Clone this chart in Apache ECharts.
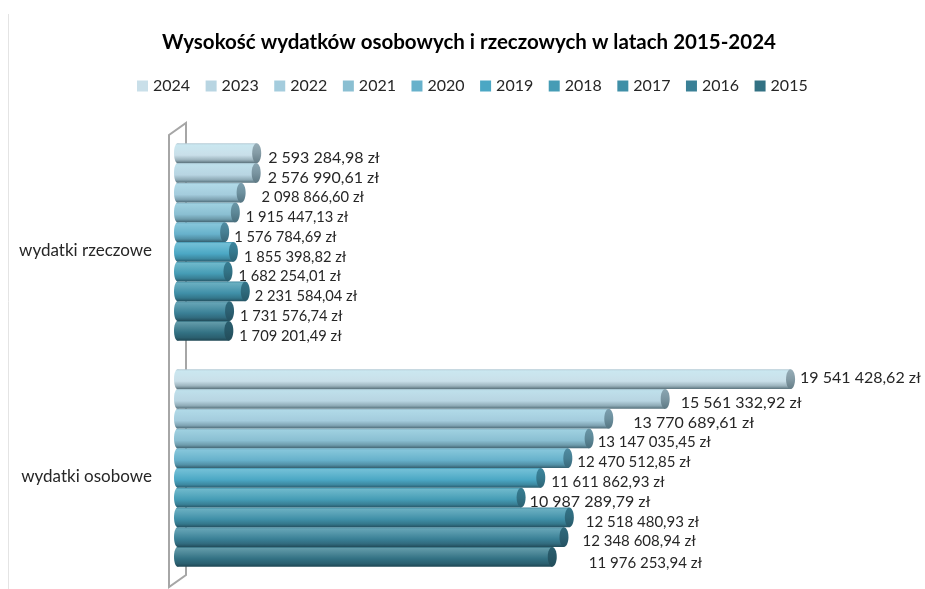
<!DOCTYPE html>
<html><head><meta charset="utf-8">
<style>html,body{margin:0;padding:0;background:#fff}#c{width:925px;height:589px}</style>
<script src="https://cdn.jsdelivr.net/npm/echarts@6/dist/echarts.min.js"></script>
</head><body><div id="c"></div>
<script>
const titleText = 'Wysokość wydatków osobowych i rzeczowych w latach 2015-2024';
const categories = ['wydatki rzeczowe', 'wydatki osobowe'];
const years = ['2024','2023','2022','2021','2020','2019','2018','2017','2016','2015'];
const rzeczowe = [2593284.98,2576990.61,2098866.60,1915447.13,1576784.69,1855398.82,1682254.01,2231584.04,1731576.74,1709201.49];
const osobowe = [19541428.62,15561332.92,13770689.61,13147035.45,12470512.85,11611862.93,10987289.79,12518480.93,12348608.94,11976253.94];
const yearColors = ['#C9DFE9','#B8D5E2','#A4CCDD','#8ABFD2','#67B1CB','#4BA7C4','#459CB5','#3F8FA7','#3A8096','#327183'];
// manual data-label nudges seen in the picture: [dx, dy, fontPx] relative to the bar tip and centre
const nudgeRzeczowe = [[7,5,16],[7,5,16],[16,5,14.7],[6,5,14.7],[5,5,14.7],[6,5,14.7],[6,5,14.7],[5,5,14.7],[6,5,14.7],[6,5,14.7]];
const nudgeOsobowe = [[5,-1,16],[11,4,16],[20,4,16],[4,4,15],[5,4,15],[6,4,15],[4,4,16],[12,5,15],[14,4,15],[32,6,15]];

const fmt = v => v.toFixed(2).replace('.', ',').replace(/\B(?=(\d{3})+(?!\d))/g, ' ') + ' zł';
// t > 0 mixes towards a bright cyan-white, t < 0 towards a dark slate
function shade(hex, t) {
  const c = [1, 3, 5].map(i => parseInt(hex.slice(i, i + 2), 16));
  const to = t > 0 ? [205, 248, 255] : [20, 45, 55];
  const a = Math.abs(t);
  return 'rgb(' + c.map((v, i) => Math.round(v + (to[i] - v) * a)).join(',') + ')';
}
function grad(base, stops) {
  return new echarts.graphic.LinearGradient(0, 0, 0, 1, stops.map(s => ({offset: s[0], color: shade(base, s[1])})));
}
const BAR_SHARE = 0.873, RX = 4.5;
function renderBar(params, api) {
  const si = params.seriesIndex, cat = api.value(1), val = api.value(0);
  const p = api.coord([val, cat]), o = api.coord([0, cat]);
  const band = api.size([0, 1])[1];
  const h = band * BAR_SHARE / years.length;
  const top = p[1] - band * BAR_SHARE / 2 + si * h;
  const base = yearColors[si];
  const body = grad(base, [[0,-0.12],[0.08,0.3],[0.3,0.18],[0.6,0],[0.84,-0.25],[1,-0.62]]);
  const capFill = grad(base, [[0,-0.28],[0.5,-0.38],[1,-0.55]]);
  const n = (cat === 0 ? nudgeRzeczowe : nudgeOsobowe)[si];
  return {type: 'group', children: [
    {type: 'ellipse', shape: {cx: o[0] + 2.5, cy: top + h/2, rx: 3.5, ry: h/2}, style: {fill: body}},
    {type: 'rect', shape: {x: o[0] + 2.5, y: top, width: p[0] - o[0] - 2.5, height: h}, style: {fill: body}},
    {type: 'ellipse', shape: {cx: p[0], cy: top + h/2, rx: RX, ry: h/2}, style: {fill: capFill}},
    {type: 'text', style: {x: p[0] + RX + n[0], y: top + h/2 + n[1], text: fmt(val), fill: '#262626',
      font: n[2] + 'px Lato, sans-serif', verticalAlign: 'middle', align: 'left'}}
  ]};
}
const series = years.map((y, i) => ({
  type: 'custom', name: y, renderItem: renderBar, z: 3,
  itemStyle: {color: yearColors[i]},
  encode: {x: 0, y: 1},
  data: [[rzeczowe[i], 0], [osobowe[i], 1]]
}));
const chart = echarts.init(document.getElementById('c'));
chart.setOption({
  animation: false,
  backgroundColor: '#fff',
  title: {text: titleText, left: 464, top: 27, textAlign: 'center',
    textStyle: {fontFamily: 'Lato', fontWeight: 'bold', fontSize: 20.5, color: '#000'}},
  legend: {data: years, left: 132, top: 73, icon: 'rect', itemWidth: 11, itemHeight: 11, itemGap: 15.5, selectedMode: false,
    textStyle: {fontFamily: 'Lato', fontSize: 16, color: '#262626'}},
  grid: {left: 175, top: 129, width: 700, height: 452},
  xAxis: {type: 'value', min: 0, max: 22222222, show: false},
  yAxis: {type: 'category', data: categories, inverse: true,
    axisLine: {show: false}, axisTick: {show: false},
    axisLabel: {margin: 23, fontFamily: 'Lato', fontSize: 17, color: '#262626', verticalAlign: 'top'}},
  graphic: [
    {type: 'line', z: -1, shape: {x1: 8.5, y1: 14, x2: 8.5, y2: 589}, style: {stroke: '#e4e4e4', lineWidth: 1}},
    {type: 'polyline', z: 0, shape: {points: [[186,567],[186,123],[169,135],[169,587],[186,575],[186,567]]},
      style: {stroke: '#a6a6a6', lineWidth: 2, fill: null}}
  ],
  series
});
</script></body></html>
